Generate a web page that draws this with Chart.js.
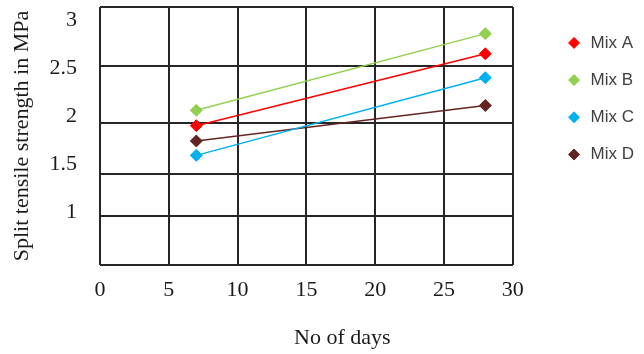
<!DOCTYPE html>
<html>
<head>
<meta charset="utf-8">
<script src="https://cdn.jsdelivr.net/npm/chart.js@4.4.1/dist/chart.umd.min.js"></script>
<style>
  html, body { margin: 0; padding: 0; background: #fff; }
  #wrap { width: 644px; height: 354px; }
</style>
</head>
<body>
<div id="wrap"><canvas id="strengthChart"></canvas></div>
<script>
// Age of the specimens (days)
const days = [7, 28];

// Split tensile strength in MPa for each mix
const mixA = [1.90, 2.65];
const mixB = [2.06, 2.86];
const mixC = [1.59, 2.40];
const mixD = [1.74, 2.11];

const mixNames = ['Mix A', 'Mix B', 'Mix C', 'Mix D'];
const mixColors = ['#ff0000', '#92d050', '#00b0f0', '#632523'];

const xTicks = [0, 5, 10, 15, 20, 25, 30];
const yTicks = [1, 1.5, 2, 2.5, 3];
// the horizontal grid of the original does not sit on the labels
const yGridLines = [0.446, 0.959, 1.398, 1.931, 2.527, 3.138];
const yMin = 0.446, yMax = 3.138;

const serif = "'Liberation Serif', 'Times New Roman', serif";
const gridColor = '#262626';

function toPoints(values) {
    return values.map((v, i) => ({ x: days[i], y: v }));
}

const series = [mixA, mixB, mixC, mixD];
const datasets = series.map((vals, i) => ({
    label: mixNames[i],
    data: toPoints(vals),
    borderColor: mixColors[i],
    backgroundColor: mixColors[i],
    borderWidth: 1.5,
    pointStyle: 'rectRot',
    pointRadius: 6,
    pointHoverRadius: 6,
    pointBorderWidth: 1,
    tension: 0
}));

// "No of days" sits right of the plot centre in the original
const xTitlePlugin = {
    id: 'xTitle',
    afterDraw(chart) {
        const { ctx, chartArea } = chart;
        ctx.save();
        ctx.font = '22px ' + serif;
        ctx.fillStyle = '#1a1a1a';
        ctx.textAlign = 'center';
        ctx.textBaseline = 'middle';
        ctx.fillText('No of days', chartArea.left + chartArea.width * 0.587, chartArea.bottom + 73);
        ctx.restore();
    }
};

function noLabelPadding(scale) {
    scale.paddingTop = 0;
    scale.paddingBottom = 0;
}

new Chart(document.getElementById('strengthChart'), {
    type: 'line',
    data: { datasets: datasets },
    options: {
        responsive: true,
        maintainAspectRatio: false,
        animation: false,
        layout: { padding: { left: 0, right: 0, top: 7, bottom: 0 } },
        plugins: {
            tooltip: { enabled: false },
            legend: {
                position: 'right',
                align: 'start',
                title: { display: true, text: '', padding: 0, font: { size: 6 } },
                labels: {
                    usePointStyle: true,
                    boxWidth: 16,
                    boxHeight: 7.8,
                    padding: 20.2,
                    color: '#404040',
                    font: { family: "'Liberation Sans', Arial, sans-serif", size: 17 }
                }
            }
        },
        scales: {
            x: {
                type: 'linear',
                min: 0,
                max: 30,
                afterBuildTicks: (scale) => { scale.ticks = xTicks.map(v => ({ value: v })); },
                afterFit: (scale) => { scale.height = 89; },
                grid: { color: gridColor, lineWidth: 2, drawTicks: false },
                border: { display: false },
                ticks: {
                    padding: 12,
                    color: '#1a1a1a',
                    font: { family: serif, size: 22 }
                }
            },
            y: {
                type: 'linear',
                position: 'left',
                min: yMin,
                max: yMax,
                afterBuildTicks: (scale) => { scale.ticks = yTicks.map(v => ({ value: v })); },
                afterFit: (scale) => { scale.width = 100; noLabelPadding(scale); },
                grid: { display: false, drawTicks: false },
                border: { display: false },
                ticks: {
                    padding: 23,
                    color: '#1a1a1a',
                    font: { family: serif, size: 22 },
                    callback: (v) => String(v)
                },
                title: {
                    display: true,
                    text: 'Split tensile strength in MPa',
                    color: '#1a1a1a',
                    font: { family: serif, size: 22 },
                    padding: { top: 9, bottom: 0 }
                }
            },
            yGrid: {
                type: 'linear',
                position: 'right',
                min: yMin,
                max: yMax,
                afterBuildTicks: (scale) => { scale.ticks = yGridLines.map(v => ({ value: v })); },
                afterFit: (scale) => { scale.width = 33; noLabelPadding(scale); },
                grid: { color: gridColor, lineWidth: 2, drawTicks: false },
                border: { display: false },
                ticks: { display: false }
            }
        }
    },
    plugins: [xTitlePlugin]
});
</script>
</body>
</html>
